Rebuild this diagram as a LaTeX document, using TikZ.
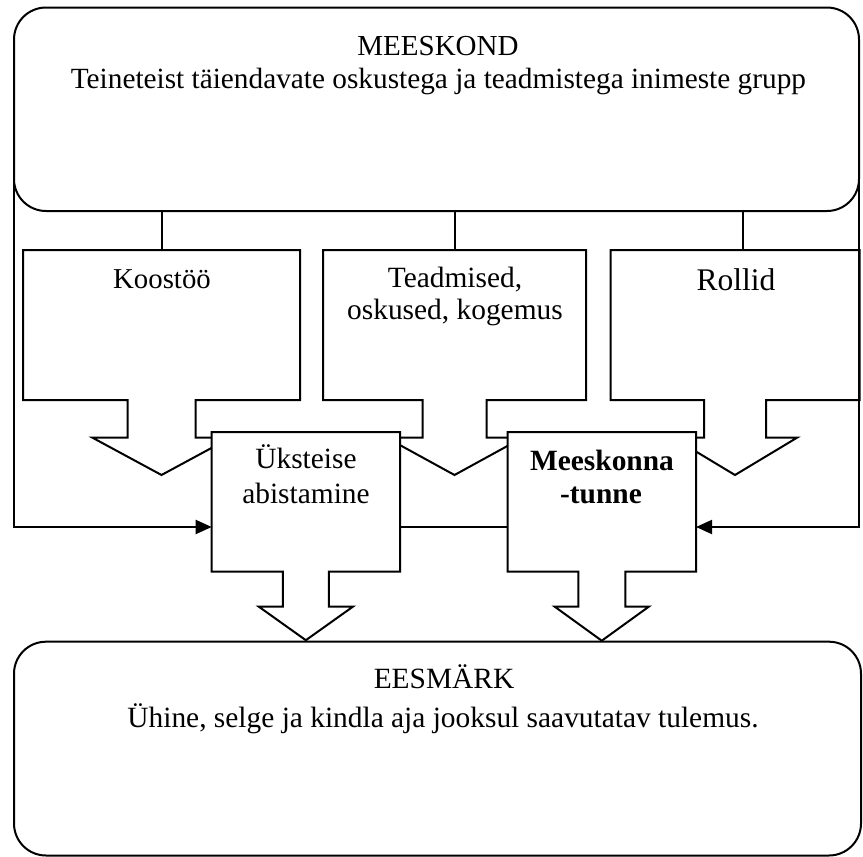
\documentclass[tikz,border=0pt]{standalone}
\usepackage{fontspec}
\setmainfont{Liberation Serif}
\usetikzlibrary{calc,arrows.meta}

% Outline of a box with a downward arrow growing out of its bottom edge.
% #1 node, #2 stem half width, #3 stem length, #4 head half width, #5 tip depth
\newcommand{\downcallout}[5]{%
  \draw[callout] (#1.north west) -- (#1.north east) -- (#1.south east)
    -- ($(#1.south)+(#2,0)$) -- ($(#1.south)+(#2,#3)$) -- ($(#1.south)+(#4,#3)$)
    -- ($(#1.south)+(0,#5)$) -- ($(#1.south)+(-#4,#3)$) -- ($(#1.south)+(-#2,#3)$)
    -- ($(#1.south)+(-#2,0)$) -- (#1.south west) -- cycle;}

\begin{document}
\begin{tikzpicture}[x=1pt,y=-1pt,
  every node/.style={inner sep=0pt, outer sep=0pt},
  panel/.style={draw, line width=2pt, rounded corners=32pt, fill=white, rectangle},
  area/.style={draw=none, rectangle},
  callout/.style={draw, line width=2pt, fill=white, line join=miter},
  conn/.style={line width=2pt},
  feed/.style={line width=2pt, line join=miter, -{Triangle[length=16pt,width=14pt]}},
  label/.style={anchor=base, font=\fontsize{29.4}{34}\selectfont},
]
\useasboundingbox (0,0) rectangle (863,857);

% the two large rounded panels
\node[panel, minimum width=845pt, minimum height=203.5pt] (team) at (436.5,109.25) {};
\node[panel, minimum width=847pt, minimum height=213.8pt] (goal) at (437.5,748.6) {};

% areas of the three upper callouts
\node[area, minimum width=277pt, minimum height=150pt] (koos) at (161.5,325) {};
\node[area, minimum width=263pt, minimum height=150pt] (know) at (454.5,325) {};
\node[area, minimum width=249pt, minimum height=150pt] (roles) at (735,325) {};
\coordinate (rolesin) at ($(roles.north)+(8,0)$);

% links from the team panel down to the callouts
\draw[conn] (team.south -| koos.north) -- (koos.north);
\draw[conn] (team.south -| know.north) -- (know.north);
\draw[conn] (team.south -| rolesin) -- (rolesin);

\downcallout{koos}{34}{37.7}{69}{75}
\downcallout{know}{32}{37.7}{68}{75}
\downcallout{roles}{31}{37.7}{62}{75}

% areas of the two lower callouts
\node[area, minimum width=188.3pt, minimum height=139.7pt] (help) at (305.85,501.85) {};
\node[area, minimum width=188.5pt, minimum height=139.7pt] (spirit) at (601.75,501.85) {};
\coordinate (helpin) at ($(help.south west)!0.32!(help.north west)$);
\coordinate (spiritin) at ($(spirit.south east)!0.32!(spirit.north east)$);

% side feeds from the team panel
\draw[feed] (team.west) |- (helpin);
\draw[feed] (team.east) |- (spiritin);

\downcallout{help}{23}{35}{47}{68.5}
\downcallout{spirit}{23.5}{35}{47}{69}

\draw[conn] (help.east |- helpin) -- (spirit.west |- helpin);

% texts
\node[label, font=\fontsize{29}{34}\selectfont] (teamtitle) at (438,55) {MEESKOND};
\node[label, font=\fontsize{29.3}{34}\selectfont] (teamdesc) at (438.4,88.3) {Teineteist täiendavate oskustega ja teadmistega inimeste grupp};
\node[label, font=\fontsize{28.8}{33}\selectfont] (koostext) at (162,288.3) {Koostöö};
\node[label] (knowtext1) at (455,287.3) {Teadmised,};
\node[label] (knowtext2) at (455,319.5) {oskused, kogemus};
\node[label, font=\fontsize{31.5}{36}\selectfont] (rolestext) at (736,290.7) {Rollid};
\node[label] (helptext1) at (306,468.3) {Üksteise};
\node[label] (helptext2) at (306,503.3) {abistamine};
\node[label, font=\fontsize{29.4}{34}\selectfont\bfseries] (spirittext1) at (602,470) {Meeskonna};
\node[label, font=\fontsize{29.4}{34}\selectfont\bfseries] (spirittext2) at (601,503.3) {-tunne};
\node[label] (goaltitle) at (444,688.8) {EESMÄRK};
\node[label] (goaldesc) at (443,727.3) {Ühine, selge ja kindla aja jooksul saavutatav tulemus.};
\end{tikzpicture}
\end{document}
